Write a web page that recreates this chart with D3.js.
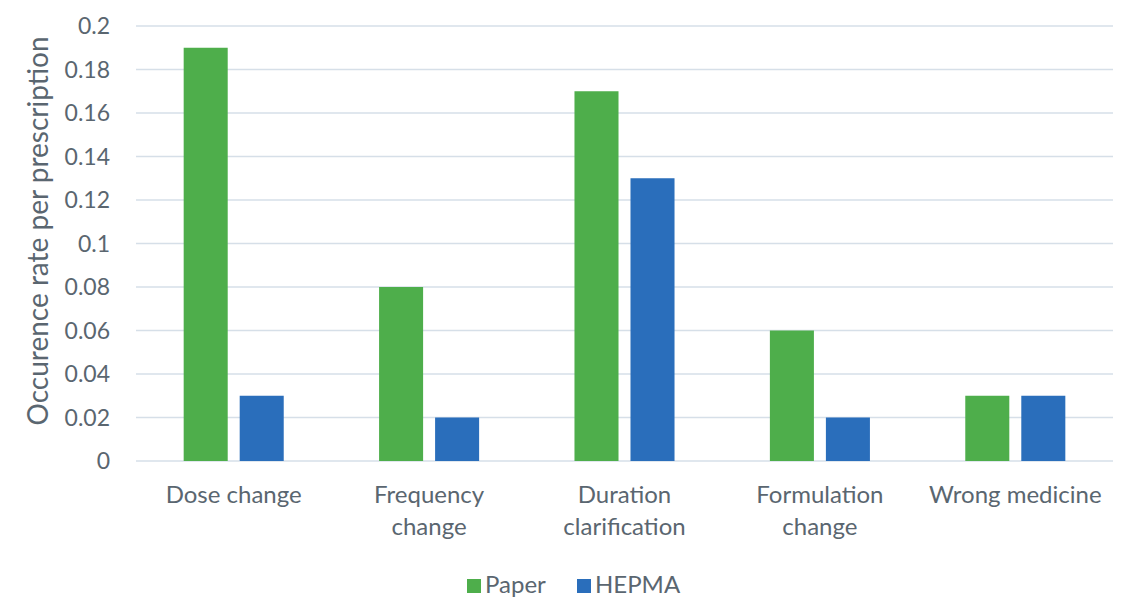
<!DOCTYPE html>
<html><head><meta charset="utf-8">
<script src="https://cdn.jsdelivr.net/npm/d3@7"></script>
<style>body{margin:0;background:#fff}svg{display:block}text{font-family:Lato,"Open Sans",sans-serif;fill:#5a6670}</style>
</head><body>
<svg id="c" width="1132" height="597"></svg>
<script>
const categories = [["Dose change"],["Frequency","change"],["Duration","clarification"],["Formulation","change"],["Wrong medicine"]];
const seriesNames = ["Paper","HEPMA"];
const paper = [0.19,0.08,0.17,0.06,0.03];
const hepma = [0.03,0.02,0.13,0.02,0.03];
const yTicks = [0,0.02,0.04,0.06,0.08,0.1,0.12,0.14,0.16,0.18,0.2];
const colors = ["#4EAE4B","#2A6EBB"];

const svg = d3.select("#c");
const mLeft=136, mRight=1113, mTop=26, mBottom=461;
const x0 = d3.scaleBand().domain(d3.range(categories.length)).range([mLeft,mRight]).paddingInner(0.488).paddingOuter(0.244);
const x1 = d3.scaleBand().domain(seriesNames).range([0,x0.bandwidth()]).paddingInner(0.214);
const y = d3.scaleLinear().domain([0,0.2]).range([mBottom,mTop]);

svg.append("g").selectAll("line").data(yTicks).join("line")
  .attr("x1",mLeft).attr("x2",mRight).attr("y1",d=>y(d)).attr("y2",d=>y(d))
  .attr("stroke","#d6dfe8").attr("stroke-width",1.5);

svg.append("g").selectAll("text").data(yTicks).join("text")
  .attr("x",110).attr("y",d=>y(d)).attr("dy","0.36em").attr("text-anchor","end")
  .attr("font-size",23).text(d=>d3.format("")(d));

const data = [paper,hepma];
const g = svg.append("g");
categories.forEach((c,i)=>{
  seriesNames.forEach((s,j)=>{
    g.append("rect").attr("x",x0(i)+x1(s)).attr("width",x1.bandwidth())
     .attr("y",y(data[j][i])).attr("height",y(0)-y(data[j][i])).attr("fill",colors[j]);
  });
  const t = svg.append("text").attr("text-anchor","middle").attr("font-size",24)
    .attr("x",x0(i)+x0.bandwidth()/2);
  c.forEach((line,k)=>t.append("tspan").attr("x",x0(i)+x0.bandwidth()/2).attr("y",503+k*32).text(line));
});

svg.append("text").attr("transform","translate(48,231) rotate(-90)").attr("text-anchor","middle")
  .attr("font-size",28).text("Occurence rate per prescription");

const leg = svg.append("g");
const lx=[467,577];
seriesNames.forEach((s,j)=>{
  leg.append("rect").attr("x",lx[j]).attr("y",579).attr("width",14).attr("height",14).attr("fill",colors[j]);
  leg.append("text").attr("x",lx[j]+18).attr("y",593).attr("font-size",24).text(s);
});
</script>
</body></html>
